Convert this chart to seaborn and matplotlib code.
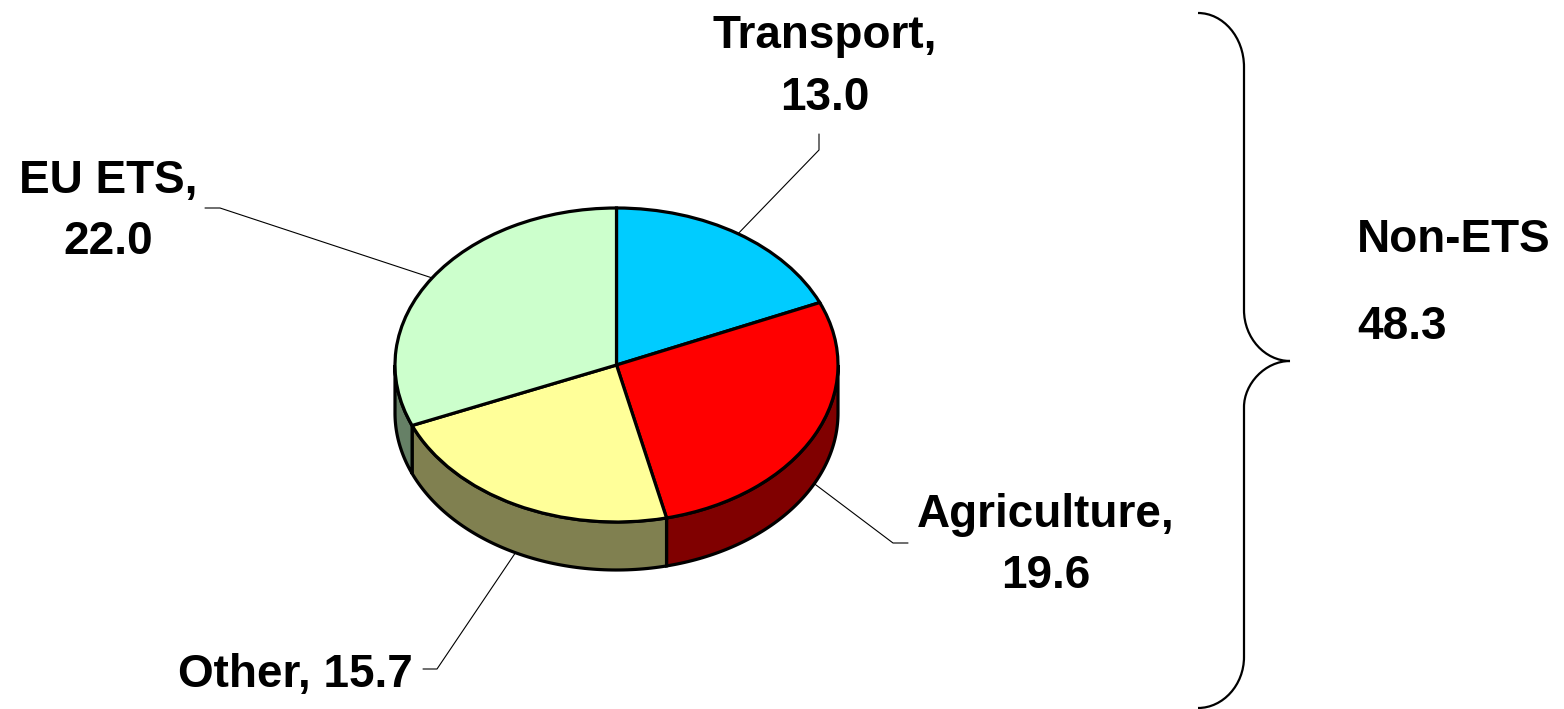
import numpy as np
import matplotlib.pyplot as plt
from matplotlib.path import Path
from matplotlib.patches import PathPatch, Polygon
import seaborn as sns

sns.set_style("white")
plt.rcParams['font.family'] = ['Liberation Sans', 'DejaVu Sans']
plt.rcParams['text.color'] = 'black'

# Data
sectors = ['Transport', 'Agriculture', 'Other', 'EU ETS']
emissions = [13.0, 19.6, 15.7, 22.0]
non_ets_sectors = ['Transport', 'Agriculture', 'Other']
top_colors = ['#00CCFF', '#FF0000', '#FFFF99', '#CCFFCC']
side_colors = ['#006680', '#800000', '#808050', '#668066']

W, H = 1564, 709
FS = 33

fig = plt.figure(figsize=(W / 100, H / 100), dpi=100)
ax = fig.add_axes([0, 0, 1, 1])
ax.set_xlim(0, W)
ax.set_ylim(H, 0)
ax.axis('off')

# pie geometry in pixels (tilted pie with some thickness)
cx, cy, rx, ry, depth = 616.5, 365, 221.5, 157, 48
d = depth / ry
ax_pie = fig.add_axes([(cx - rx) / W, (H - cy - ry - depth) / H, 2 * rx / W, (2 * ry + depth) / H])
wedges, _ = ax_pie.pie(emissions, colors=top_colors, startangle=90, counterclock=False,
                       wedgeprops=dict(edgecolor='black', linewidth=2.3))
ax_pie.set_aspect('auto')
ax_pie.set_xlim(-1, 1)
ax_pie.set_ylim(-1 - d, 1)
ax_pie.axis('off')

# side walls for the front half
anchors = {}
for name, w, sc in zip(sectors, wedges, side_colors):
    lo, hi = w.theta1, w.theta2
    a, b = max(lo, -180), min(hi, 0)
    if a < b:
        t = np.radians(np.linspace(a, b, 80))
        top = np.column_stack([np.cos(t), np.sin(t)])
        bot = np.column_stack([np.cos(t[::-1]), np.sin(t[::-1]) - d])
        ax_pie.add_patch(Polygon(np.vstack([top, bot]), closed=True, fc=sc, ec='black',
                                 lw=2.3, zorder=0.5, clip_on=False))
    mid = np.radians((lo + hi) / 2)
    px = cx + rx * np.cos(mid)
    py = cy - ry * np.sin(mid) + (depth if np.sin(mid) < 0 else 0)
    anchors[name] = (px, py)

# labels: (x, baselines, ha) and leader line start (tick)
label_layout = {
    'Transport': (825, [48, 110], 'center', [(819, 134), (819, 150)]),
    'EU ETS': (108, [193, 254], 'center', [(205, 208), (220, 208)]),
    'Agriculture': (1046, [527, 588], 'center', [(908, 543), (893, 543)]),
    'Other': (413, [687], 'right', [(423, 669), (437, 669)]),
}

for name, val in zip(sectors, emissions):
    x, baselines, ha, tick = label_layout[name]
    if len(baselines) == 2:
        lines = [f"{name},", f"{val:.1f}"]
    else:
        lines = [f"{name}, {val:.1f}"]
    for txt, yb in zip(lines, baselines):
        ax.text(x, yb, txt, ha=ha, va='baseline', fontsize=FS, fontweight='bold', color='black')
    xs = [tick[0][0], tick[1][0], anchors[name][0]]
    ys = [tick[0][1], tick[1][1], anchors[name][1]]
    ax.plot(xs, ys, color='black', lw=0.8, zorder=5)

# brace for Non-ETS group
verts = [(1198, 13), (1223, 13), (1244, 37), (1244, 67),
         (1244, 310),
         (1244, 338), (1265, 361), (1290, 361),
         (1265, 361), (1244, 384), (1244, 407),
         (1244, 657),
         (1244, 685), (1223, 708), (1198, 708)]
codes = [Path.MOVETO, Path.CURVE4, Path.CURVE4, Path.CURVE4,
         Path.LINETO,
         Path.CURVE4, Path.CURVE4, Path.CURVE4,
         Path.CURVE4, Path.CURVE4, Path.CURVE4,
         Path.LINETO,
         Path.CURVE4, Path.CURVE4, Path.CURVE4]
ax.add_patch(PathPatch(Path(verts, codes), fc='none', ec='black', lw=1.6))

non_ets_total = sum(v for s, v in zip(sectors, emissions) if s in non_ets_sectors)
ax.text(1357, 252, 'Non-ETS', ha='left', va='baseline', fontsize=FS, fontweight='bold', color='black')
ax.text(1357, 339, f"{non_ets_total:.1f}", ha='left', va='baseline', fontsize=FS,
        fontweight='bold', color='black')

fig.savefig('out.png', dpi=100)
